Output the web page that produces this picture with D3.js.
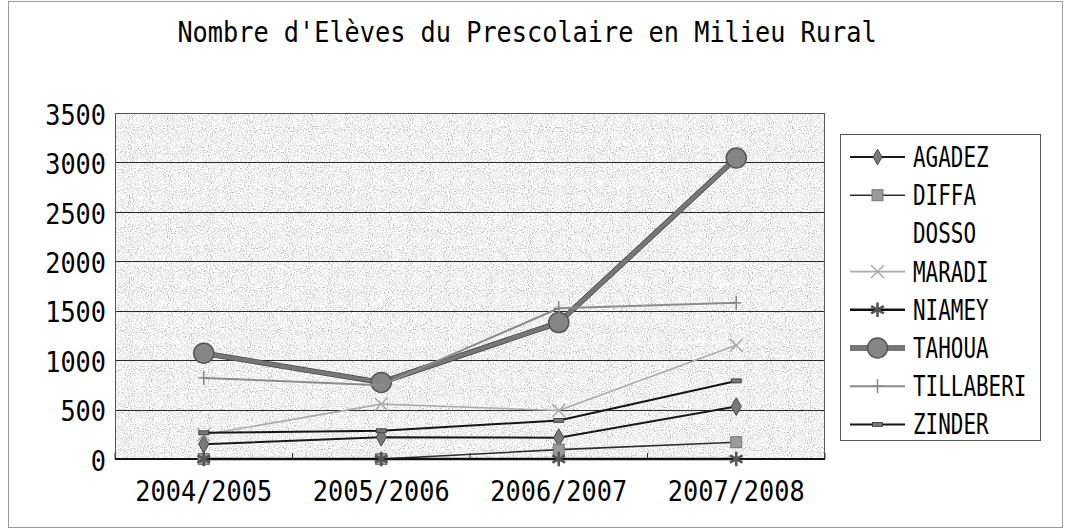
<!DOCTYPE html>
<html><head><meta charset="utf-8">
<script src="https://cdn.jsdelivr.net/npm/d3@7"></script>
<style>
html,body{margin:0;padding:0;background:#fff;}
svg{display:block;}
text{font-family:"DejaVu Sans Mono","Liberation Mono",monospace;fill:#000;}
</style></head>
<body>
<svg id="chart" width="1066" height="531"></svg>
<script>
const title = "Nombre d'Elèves du Prescolaire en Milieu Rural";
const categories = ["2004/2005","2005/2006","2006/2007","2007/2008"];
const yTicks = [0,500,1000,1500,2000,2500,3000,3500];
const seriesNames = ["AGADEZ","DIFFA","DOSSO","MARADI","NIAMEY","TAHOUA","TILLABERI","ZINDER"];
const agadez    = [150, 220, 215, 530];
const diffa     = [0, 0, 95, 170];
const dosso     = [null, null, null, null];
const maradi    = [245, 555, 490, 1150];
const niamey    = [0, 0, 0, 0];
const tahoua    = [1070, 775, 1380, 3045];
const tillaberi = [820, 745, 1525, 1580];
const zinder    = [265, 285, 390, 790];
const seriesValues = [agadez, diffa, dosso, maradi, niamey, tahoua, tillaberi, zinder];

const styles = {
  AGADEZ:    {stroke:"#1a1a1a", width:2,   marker:"diamond"},
  DIFFA:     {stroke:"#2e2e2e", width:1.6, marker:"square"},
  DOSSO:     {stroke:"none",    width:0,   marker:"none"},
  MARADI:    {stroke:"#ababab", width:1.6, marker:"x"},
  NIAMEY:    {stroke:"#111",    width:2.4, marker:"asterisk"},
  TAHOUA:    {stroke:"#777",    width:4,   marker:"circle"},
  TILLABERI: {stroke:"#8c8c8c", width:2,   marker:"plus"},
  ZINDER:    {stroke:"#151515", width:2,   marker:"dash"}
};

const svg = d3.select("#chart");
const CW = 15.2; // monospace advance per character (px)
const FS = 28;

// outer border
svg.append("rect").attr("x",8.5).attr("y",1.5).attr("width",1054).attr("height",526)
  .attr("fill","none").attr("stroke","#9a9a9a").attr("stroke-width",1);

// title
svg.append("text").attr("x",527).attr("y",42).attr("text-anchor","middle")
  .attr("font-size",FS).attr("textLength",title.length*CW).attr("lengthAdjust","spacingAndGlyphs")
  .text(title);

const plot = {l:115, r:825, t:113, b:459};
const x = d3.scaleBand().domain(categories).range([plot.l, plot.r]).padding(0);
const y = d3.scaleLinear().domain([0,3500]).range([plot.b, plot.t]);

// stipple texture
const defs = svg.append("defs");
const f = defs.append("filter").attr("id","stip").attr("x",0).attr("y",0).attr("width",1).attr("height",1);
f.append("feTurbulence").attr("type","fractalNoise").attr("baseFrequency",0.95).attr("numOctaves",1).attr("seed",4).attr("result","n");
f.append("feColorMatrix").attr("in","n").attr("type","matrix")
  .attr("values","1 0 0 0 0  1 0 0 0 0  1 0 0 0 0  0 0 0 0 1").attr("result","g");
const ct = f.append("feComponentTransfer").attr("in","g");
["feFuncR","feFuncG","feFuncB"].forEach(fn=>ct.append(fn).attr("type","discrete").attr("tableValues","0.4 0.55 0.8 0.98 1 1"));

svg.append("rect").attr("x",plot.l).attr("y",plot.t).attr("width",plot.r-plot.l).attr("height",plot.b-plot.t)
  .attr("fill","#d2d2d2").attr("filter","url(#stip)");

// gridlines
svg.append("g").selectAll("line").data(yTicks.filter(d=>d>0)).join("line")
  .attr("x1",plot.l).attr("x2",plot.r).attr("y1",d=>Math.round(y(d))+0.5).attr("y2",d=>Math.round(y(d))+0.5)
  .attr("stroke","#2a2a2a").attr("stroke-width",1);
// plot border
svg.append("rect").attr("x",plot.l+0.5).attr("y",plot.t+0.5).attr("width",plot.r-plot.l-1).attr("height",plot.b-plot.t)
  .attr("fill","none").attr("stroke","#555").attr("stroke-width",1);

// y axis labels
const yAxis = d3.axisLeft(y).tickValues(yTicks).tickFormat(d3.format("d")).tickSize(0).tickPadding(9);
const ya = svg.append("g").attr("transform",`translate(${plot.l},0)`).call(yAxis);
ya.select(".domain").remove();
ya.selectAll("text").attr("font-size",FS).attr("font-family","'DejaVu Sans Mono',monospace")
  .attr("dy","0.4em").attr("fill","#000")
  .attr("textLength",d=>String(d).length*CW).attr("lengthAdjust","spacingAndGlyphs");

// x axis
const xa = svg.append("g").attr("transform",`translate(0,${plot.b})`)
  .call(d3.axisBottom(x).tickSize(0).tickPadding(28));
xa.select(".domain").remove();
xa.selectAll("text").attr("font-size",FS).attr("font-family","'DejaVu Sans Mono',monospace").attr("fill","#000")
  .attr("dy","0.5em")
  .attr("textLength",d=>d.length*CW).attr("lengthAdjust","spacingAndGlyphs");
// axis line and band ticks
svg.append("line").attr("x1",plot.l).attr("x2",plot.r).attr("y1",plot.b).attr("y2",plot.b)
  .attr("stroke","#111").attr("stroke-width",2);
const bounds = categories.map(c=>x(c)).concat([plot.r]);
svg.append("g").selectAll("line").data(bounds).join("line")
  .attr("x1",d=>d).attr("x2",d=>d).attr("y1",plot.b).attr("y2",plot.b-6)
  .attr("stroke","#333").attr("stroke-width",1);

// markers
function drawMarker(g, type, cx, cy, legend){
  if(type==="diamond"){
    g.append("path").attr("d",d3.symbol(d3.symbolDiamond,legend?70:90)()).attr("transform",`translate(${cx},${cy})`)
      .attr("fill","#7a7a7a").attr("stroke","#444").attr("stroke-width",1);
  } else if(type==="square"){
    g.append("rect").attr("x",cx-5.5).attr("y",cy-5.5).attr("width",11).attr("height",11)
      .attr("fill","#9a9a9a").attr("stroke","#777").attr("stroke-width",1);
  } else if(type==="x"){
    g.append("path").attr("d",d3.symbol(d3.symbolX,110)()).attr("transform",`translate(${cx},${cy})`)
      .attr("fill","none").attr("stroke","#a8a8a8").attr("stroke-width",1.5);
  } else if(type==="asterisk"){
    g.append("path").attr("d",d3.symbol(d3.symbolAsterisk,150)()).attr("transform",`translate(${cx},${cy})`)
      .attr("fill","none").attr("stroke","#555").attr("stroke-width",2.6);
  } else if(type==="circle"){
    g.append("circle").attr("cx",cx).attr("cy",cy).attr("r",10)
      .attr("fill","#858585").attr("stroke","#555").attr("stroke-width",1.5);
  } else if(type==="plus"){
    g.append("line").attr("x1",cx).attr("x2",cx).attr("y1",cy-7).attr("y2",cy+7).attr("stroke","#888").attr("stroke-width",1.5);
    g.append("line").attr("x1",cx-5).attr("x2",cx+5).attr("y1",cy).attr("y2",cy).attr("stroke","#888").attr("stroke-width",1.5);
  } else if(type==="dash"){
    g.append("rect").attr("x",cx-5).attr("y",cy-2).attr("width",10).attr("height",4)
      .attr("fill","#777").attr("stroke","#333").attr("stroke-width",0.8);
  }
}

const line = d3.line().defined(d=>d.v!=null).x(d=>x(d.c)+x.bandwidth()/2).y(d=>y(d.v));
const sg = svg.append("g");
seriesNames.forEach((name,i)=>{
  const st = styles[name];
  const pts = categories.map((c,j)=>({c, v:seriesValues[i][j]})).filter(p=>p.v!=null);
  if(!pts.length) return;
  const g = sg.append("g");
  if(name==="TAHOUA"){
    g.append("path").attr("d",line(pts)).attr("fill","none").attr("stroke","#4a4a4a").attr("stroke-width",5.5).attr("stroke-linejoin","round");
  }
  g.append("path").attr("d",line(pts)).attr("fill","none").attr("stroke",st.stroke).attr("stroke-width",st.width).attr("stroke-linejoin","round");
  pts.forEach(p=>drawMarker(g, st.marker, x(p.c)+x.bandwidth()/2, y(p.v), false));
});

// legend
const lg = svg.append("g");
const L = {x:840, y:134, w:200, h:306};
lg.append("rect").attr("x",L.x+0.5).attr("y",L.y+0.5).attr("width",L.w).attr("height",L.h)
  .attr("fill","#fff").attr("stroke","#555").attr("stroke-width",1);
const rowH = 38.2, row0 = 157;
seriesNames.forEach((name,i)=>{
  const st = styles[name];
  const cy = row0 + i*rowH;
  const g = lg.append("g");
  if(st.marker!=="none"){
    if(name==="TAHOUA"){
      g.append("line").attr("x1",850).attr("x2",905).attr("y1",cy).attr("y2",cy).attr("stroke","#4a4a4a").attr("stroke-width",5.5);
    }
    g.append("line").attr("x1",850).attr("x2",905).attr("y1",cy).attr("y2",cy).attr("stroke",st.stroke).attr("stroke-width",st.width);
    drawMarker(g, st.marker, 877.5, cy, true);
  }
  g.append("text").attr("x",913).attr("y",cy).attr("dy","0.36em").attr("font-size",FS)
    .attr("textLength",name.length*12.6).attr("lengthAdjust","spacingAndGlyphs").text(name);
});
</script>
</body></html>
